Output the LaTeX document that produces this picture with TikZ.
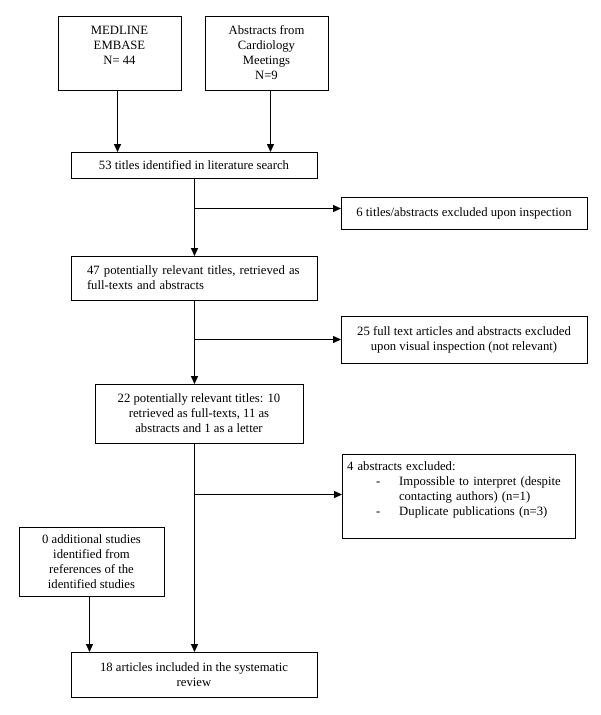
\documentclass[tikz,border=0pt]{standalone}
\usepackage{fontspec}
\setmainfont{Liberation Serif}
\usetikzlibrary{arrows.meta}
\tikzset{
  box/.style={draw, line width=1pt, inner sep=0pt, outer sep=0pt, anchor=north west, align=center,
    font=\fontsize{12.7}{15}\selectfont},
  arr/.style={line width=1.4pt, -{Triangle[length=8pt,width=7pt]}}
}
\begin{document}
\begin{tikzpicture}[x=1pt,y=-1pt]
\useasboundingbox (0,0) rectangle (600,715);
\node[box, minimum width=123pt, minimum height=74pt] (med) at (58,16)
  {MEDLINE\\EMBASE\\N= 44\\\mbox{}};
\node[box, minimum width=123pt, minimum height=74pt] (abs) at (205,16)
  {Abstracts from\\Cardiology\\Meetings\\N=9};
\node[box, minimum width=246pt, minimum height=26pt] (t53) at (71,152)
  {53 titles identified in literature search};
\node[box, minimum width=246pt, minimum height=32pt] (ex6) at (341,197)
  {6 titles/abstracts excluded upon inspection};
\node[box, minimum width=246pt, minimum height=44pt, text width=230pt, align=left, inner xsep=8pt] (t47) at (71,256)
  {\hspace*{8pt}47 potentially relevant titles, retrieved as\\\hspace*{8pt}full-texts and abstracts};
\node[box, minimum width=246pt, minimum height=47pt] (ex25) at (341,316)
  {25 full text articles and abstracts excluded\\upon visual inspection (not relevant)};
\node[box, minimum width=208pt, minimum height=59pt] (t22) at (95,384)
  {22 potentially relevant titles: 10\\retrieved as full-texts, 11 as\\abstracts and 1 as a letter};
\node[box, minimum width=233pt, minimum height=84pt, text width=223pt, align=left, inner xsep=5pt] (ex4) at (342,454)
  {4 abstracts excluded:\\
   \hspace*{29pt}-\makebox[0pt][l]{\hspace*{19pt}Impossible to interpret (despite}\\
   \hspace*{52pt}contacting authors) (n=1)\\
   \hspace*{29pt}-\makebox[0pt][l]{\hspace*{19pt}Duplicate publications (n=3)}\\
   \mbox{}};
\node[box, minimum width=145pt, minimum height=69pt] (t0) at (19,527)
  {0 additional studies\\identified from\\references of the\\identified studies};
\node[box, minimum width=246pt, minimum height=45pt] (t18) at (71,652)
  {18 articles included in the systematic\\review};
% connectors
\draw[arr] ([xshift=-2pt]med.south) -- ([xshift=-2pt]med.south |- t53.north);
\draw[arr] ([xshift=4pt]abs.south) -- ([xshift=4pt]abs.south |- t53.north);
\draw[arr] ([xshift=0.5pt]t53.south) -- ([xshift=0.5pt]t53.south |- t47.north);
\draw[arr] ([xshift=0.5pt,yshift=4.5pt]t53.south |- ex6.west) -- ([yshift=4.5pt]ex6.west);
\draw[arr] ([xshift=0.5pt]t47.south) -- ([xshift=0.5pt]t47.south |- t22.north);
\draw[arr] ([xshift=0.5pt]t47.south |- ex25.west) -- (ex25.west);
\draw[arr] ([xshift=0.5pt]t47.south |- t22.south) -- ([xshift=0.5pt]t18.north);
\draw[arr] ([xshift=0.5pt,yshift=1.5pt]t47.south |- ex4.west) -- ([yshift=1.5pt]ex4.west);
\draw[arr] ([xshift=-2pt]t0.south) -- ([xshift=-2pt]t0.south |- t18.north);
\end{tikzpicture}
\end{document}
